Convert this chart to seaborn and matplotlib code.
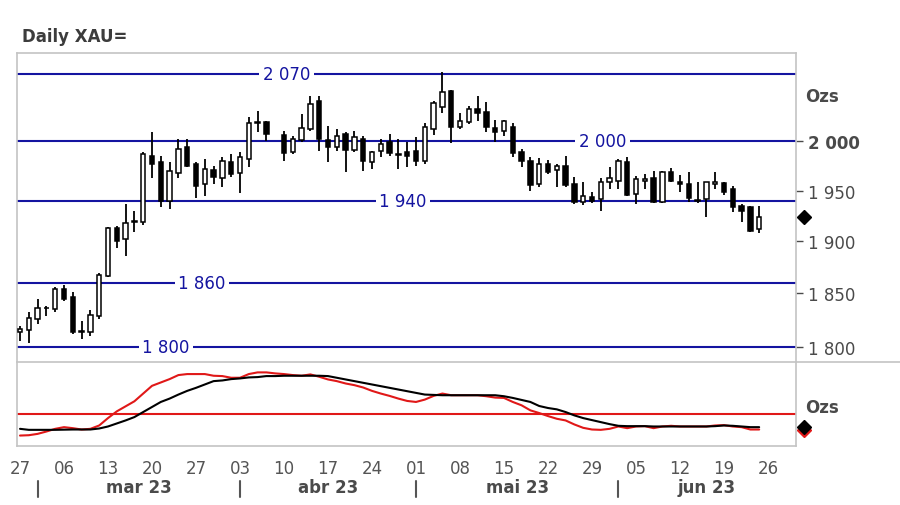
import numpy as np
import pandas as pd
import matplotlib
matplotlib.use("Agg")
import matplotlib.pyplot as plt
import matplotlib.transforms as mtransforms
from matplotlib.lines import Line2D
from matplotlib.ticker import FixedLocator, NullLocator
import seaborn as sns

# daily OHLC, Feb 27 -> Jun 23 2023 (trading days, Good Friday empty)
opens = [1813.6, 1815.7, 1826.0, 1835.8, 1835.3, 1854.2, 1846.3, 1814.5, 1813.6, 1829.1,
         1866.9, 1912.8, 1902.4, 1919.8, 1918.7, 1984.6, 1978.5, 1940.0, 1967.7, 1993.7,
         1976.8, 1956.7, 1970.8, 1962.7, 1978.5, 1967.4, 1981.9, 2019.0, 2019.5, None,
         2006.7, 1988.6, 2001.3, 2012.6, 2041.3, 2001.3, 1993.7, 2007.3, 1991.0, 2002.3,
         1978.5, 1989.7, 1999.0, 1986.4, 1988.6, 1990.3, 1979.5, 2012.6, 2035.7, 2051.8,
         2014.3, 2019.5, 2033.3, 2029.7, 2013.6, 2010.8, 2014.9, 1988.6, 1979.5, 1956.7,
         1976.8, 1970.8, 1975.1, 1956.7, 1938.7, 1943.3, 1941.7, 1958.4, 1960.0, 1978.5,
         1946.7, 1960.0, 1962.5, 1939.0, 1968.4, 1958.9, 1956.7, 1940.3, 1941.7, 1957.0,
         1957.7, 1952.0, 1935.1, 1933.5, 1912.1]
highs = [1819.7, 1832.5, 1844.7, 1838.4, 1856.4, 1858.3, 1851.1, 1823.7, 1834.7, 1869.5,
         1914.1, 1914.7, 1936.8, 1930.2, 1988.7, 2009.8, 1984.6, 1978.5, 2002.3, 2002.3,
         1978.5, 1981.9, 1975.1, 1983.6, 1986.9, 1988.7, 2024.6, 2030.9, 2021.1, None,
         2010.8, 2005.7, 2028.1, 2047.1, 2047.1, 2016.0, 2012.6, 2009.0, 2010.8, 2005.7,
         1990.3, 2002.3, 2007.3, 2002.3, 1999.0, 2003.9, 2018.4, 2041.3, 2071.8, 2053.2,
         2028.6, 2036.8, 2047.1, 2040.2, 2021.8, 2021.8, 2018.4, 1992.0, 1983.6, 1982.6,
         1980.8, 1976.8, 1984.6, 1963.4, 1958.4, 1949.0, 1962.5, 1973.5, 1981.9, 1983.6,
         1964.4, 1966.7, 1970.0, 1970.0, 1972.4, 1965.7, 1969.0, 1959.0, 1959.0, 1968.4,
         1959.0, 1955.0, 1936.8, 1935.1, 1935.1]
lows = [1805.8, 1803.7, 1821.3, 1828.5, 1832.8, 1843.1, 1812.0, 1807.4, 1810.4, 1826.0,
        1866.1, 1893.3, 1885.6, 1908.9, 1916.0, 1962.5, 1933.5, 1931.8, 1962.5, 1973.5,
        1942.4, 1945.0, 1956.7, 1953.4, 1964.0, 1947.4, 1973.5, 2009.2, 2000.6, None,
        1979.5, 1986.9, 1999.0, 2010.8, 1990.3, 1978.5, 1989.7, 1968.4, 1988.6, 1970.0,
        1971.8, 1983.6, 1985.2, 1971.8, 1973.5, 1975.1, 1976.8, 2006.7, 2028.6, 1998.0,
        2012.6, 2017.7, 2021.1, 2009.2, 1999.6, 2005.7, 1984.2, 1974.1, 1949.7, 1953.9,
        1966.7, 1953.4, 1953.4, 1936.8, 1935.8, 1937.8, 1930.2, 1951.7, 1951.7, 1945.0,
        1936.8, 1951.7, 1937.8, 1937.8, 1958.4, 1948.4, 1939.0, 1937.8, 1923.6, 1951.7,
        1945.7, 1928.6, 1918.7, 1908.9, 1908.2]
closes = [1816.7, 1826.9, 1836.3, 1836.3, 1854.2, 1844.7, 1813.6, 1813.6, 1829.7, 1867.5,
          1912.8, 1900.7, 1917.7, 1919.0, 1986.9, 1976.8, 1940.0, 1969.4, 1992.0, 1975.1,
          1955.0, 1971.8, 1963.4, 1979.5, 1966.7, 1983.6, 2018.4, 2020.0, 2007.3, None,
          1987.6, 2002.3, 2013.6, 2038.5, 2002.3, 1993.7, 2005.7, 1991.0, 2003.9, 1980.1,
          1988.6, 1997.2, 1987.6, 1987.2, 1985.2, 1980.1, 2014.9, 2039.2, 2050.7, 2014.3,
          2020.5, 2033.3, 2028.8, 2014.3, 2009.2, 2020.5, 1987.6, 1980.1, 1956.0, 1976.8,
          1968.4, 1975.1, 1955.7, 1938.4, 1944.4, 1940.0, 1959.0, 1962.5, 1980.1, 1945.7,
          1961.7, 1962.0, 1939.0, 1968.4, 1960.0, 1956.7, 1942.4, 1940.0, 1958.4, 1958.5,
          1949.0, 1933.5, 1930.2, 1910.4, 1923.6]

# lower panel oscillator (no scale shown)
fast_line = [12.8, 13.2, 14.8, 17.6, 20.8, 22.8, 21.6, 20.0, 20.8, 24.8,
             33.6, 41.6, 47.6, 53.6, 62.8, 72.0, 76.0, 80.0, 84.8, 86.0,
             86.0, 86.0, 84.0, 83.6, 81.6, 81.6, 86.0, 88.0, 88.0, 86.8,
             86.0, 84.8, 84.0, 85.6, 82.8, 79.6, 77.6, 74.8, 72.8, 70.0,
             66.0, 62.8, 60.0, 56.8, 54.0, 52.8, 55.6, 60.0, 62.8, 60.8,
             60.8, 60.8, 60.8, 59.6, 58.0, 57.6, 52.8, 48.8, 42.8, 39.6,
             36.0, 32.8, 30.8, 26.0, 22.0, 20.0, 19.6, 20.8, 23.6, 21.6,
             23.6, 24.0, 21.6, 23.6, 24.4, 23.6, 23.6, 23.6, 23.6, 24.8,
             25.2, 23.6, 22.8, 20.0, 20.0]
slow_line = [20.8, 19.6, 19.6, 19.6, 19.6, 19.8, 20.0, 20.0, 20.0, 21.2,
             23.6, 27.2, 30.8, 34.8, 40.8, 46.8, 52.8, 56.8, 61.6, 66.0,
             69.6, 73.6, 77.6, 78.4, 80.0, 80.8, 82.0, 82.4, 83.6, 83.6,
             84.0, 84.0, 84.0, 84.0, 84.0, 83.6, 81.6, 79.6, 77.6, 75.6,
             73.6, 71.6, 69.6, 67.6, 65.6, 63.6, 61.6, 61.2, 60.8, 60.8,
             60.8, 60.8, 60.8, 60.8, 60.8, 59.6, 57.6, 55.2, 52.8, 48.0,
             45.6, 44.0, 40.8, 36.8, 33.6, 31.2, 28.8, 26.4, 24.4, 24.0,
             24.0, 24.0, 23.6, 23.6, 23.6, 23.6, 23.6, 23.6, 23.6, 24.0,
             24.8, 24.4, 23.6, 22.8, 22.8]
signal_level = 38

levels = [2070, 2000, 1940, 1860, 1800]
level_labels = ["2 070", "2 000", "1 940", "1 860", "1 800"]
level_label_x = [30.3, 66.2, 43.5, 20.7, 16.6]

price_ticks = [1800, 1850, 1900, 1950, 2000]
price_tick_labels = ["1 800", "1 850", "1 900", "1 950", "2 000"]
month_labels = ["mar 23", "abr 23", "mai 23", "jun 23"]

sns.set_style("white")
plt.rcParams["font.family"] = ["DejaVu Sans"]

BLUE = "#1414a0"
GRAY = "#c4c4c4"
TXT = "#4a4a4a"

days = pd.bdate_range("2023-02-27", "2023-06-26")
pos = np.arange(len(days))
n = len(closes)
x = pos[:n]

fig = plt.figure(figsize=(9, 5.06), dpi=100)
ax = fig.add_axes([0.0189, 0.2820, 0.8652, 0.6107])
ax2 = fig.add_axes([0.0189, 0.1160, 0.8652, 0.1660])
xlim = (-0.34, 88.15)

# --- candles
o = np.array([np.nan if v is None else v for v in opens])
h = np.array([np.nan if v is None else v for v in highs])
l = np.array([np.nan if v is None else v for v in lows])
c = np.array([np.nan if v is None else v for v in closes])
ok = ~np.isnan(c)
ax.vlines(x[ok], l[ok], h[ok], color="black", lw=1.3, zorder=3)
up = ok & (c >= o)
dn = ok & (c < o)
ax.bar(x[up], c[up] - o[up], bottom=o[up], width=0.5, color="white",
       edgecolor="black", lw=1.1, zorder=4)
ax.bar(x[dn], o[dn] - c[dn], bottom=c[dn], width=0.5, color="black",
       edgecolor="black", lw=1.1, zorder=4)

for lv, lab, lx in zip(levels, level_labels, level_label_x):
    ax.axhline(lv, color=BLUE, lw=1.5, zorder=2)
    ax.text(lx, lv, lab, color=BLUE, fontsize=12, ha="center", va="center",
            zorder=5, bbox=dict(fc="white", ec="none", pad=2.5))

ax.set_yscale("log")
ax.set_ylim(1785.9, 2092.1)
ax.set_xlim(*xlim)
ax.yaxis.set_major_locator(FixedLocator(price_ticks))
ax.yaxis.set_minor_locator(NullLocator())
ax.set_yticklabels(price_tick_labels)
ax.yaxis.tick_right()
ax.tick_params(axis="y", direction="out", length=5, width=1, color=TXT,
               labelsize=12, labelcolor=TXT, pad=4)
for t in ax.get_yticklabels():
    if t.get_text() == "2 000":
        t.set_fontweight("bold")
ax.set_xticks([])
ax.plot(89.1, closes[-1], marker="D", ms=7.5, color="black", clip_on=False, zorder=6)

# --- oscillator panel
osc = pd.DataFrame({"pos": x, "fast": fast_line, "slow": slow_line})
ax2.axhline(signal_level, color="#e01818", lw=1.5)
sns.lineplot(data=osc, x="pos", y="fast", color="#e01818", lw=1.5, ax=ax2)
sns.lineplot(data=osc, x="pos", y="slow", color="black", lw=1.5, ax=ax2)
ax2.plot(89.1, fast_line[-1], marker="D", ms=7.5, color="#e01818", clip_on=False)
ax2.plot(89.1, slow_line[-1], marker="D", ms=7.5, color="black", clip_on=False)
ax2.set_ylim(0, 100)
ax2.set_xlim(*xlim)
ax2.set_yticks([])
ax2.set_xlabel("")
ax2.set_ylabel("")

mondays = [i for i, d in enumerate(days) if d.weekday() == 0]
month_first = [i for i in range(1, len(days)) if days[i].month != days[i - 1].month]
tick_pos = sorted(set(mondays) | set(month_first))
tick_lab = [days[i].strftime("%d") if i in mondays else "" for i in tick_pos]
ax2.set_xticks(tick_pos)
ax2.set_xticklabels(tick_lab)
ax2.tick_params(axis="x", direction="out", length=4, width=1, color="#666666",
                labelsize=12, labelcolor="#555555", pad=5)

for a in (ax, ax2):
    for s in a.spines.values():
        s.set_color(GRAY)
        s.set_linewidth(1.2)
ax.spines["bottom"].set_visible(False)
ax2.spines["top"].set_visible(False)
fig.add_artist(Line2D([0.0189, 1.0], [0.2820, 0.2820], color=GRAY, lw=1.2,
                      transform=fig.transFigure))

# month separators and names
trans = mtransforms.blended_transform_factory(ax2.transData, fig.transFigure)
bounds = month_first + [xlim[1]]
for k, i in enumerate(month_first):
    ax2.add_line(Line2D([i, i], [0.016, 0.048], color="#555555", lw=1.5,
                        transform=trans, clip_on=False))
    ax2.text((bounds[k] + bounds[k + 1]) / 2, 0.035, month_labels[k], transform=trans,
             ha="center", va="center", fontsize=12, fontweight="bold", color=TXT)

fig.text(0.0244, 0.9269, "Daily XAU=", fontsize=12, fontweight="bold", color="#3c3c3c",
         va="center", ha="left")
fig.text(0.8944, 0.8077, "Ozs", fontsize=12, fontweight="bold", color=TXT, va="center")
fig.text(0.8944, 0.1931, "Ozs", fontsize=12, fontweight="bold", color=TXT, va="center")

fig.savefig("out.png", dpi=100)
